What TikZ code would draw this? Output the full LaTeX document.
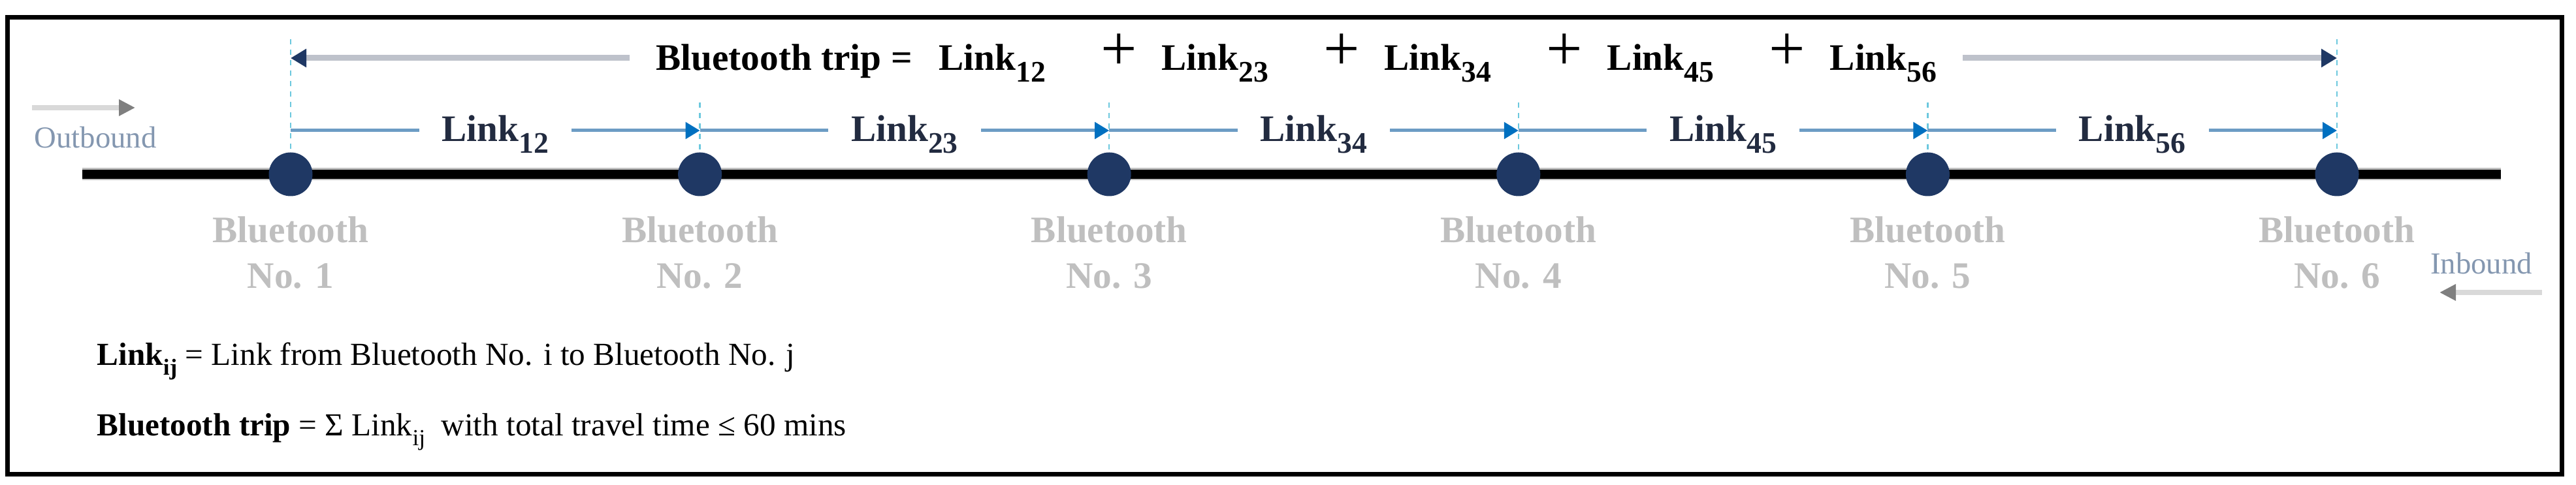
\documentclass[tikz,border=0pt]{standalone}
\usepackage{fontspec}
\setmainfont{Liberation Serif}
\usetikzlibrary{positioning,arrows.meta}
\definecolor{stnavy}{HTML}{1F3864}
\definecolor{tripgray}{HTML}{BEC2CB}
\definecolor{linkblue}{HTML}{6C9CC4}
\definecolor{tipblue}{HTML}{0070C0}
\definecolor{guidecyan}{HTML}{6CC8DE}
\definecolor{lbltext}{HTML}{222B40}
\definecolor{stgray}{HTML}{BFBFBF}
\definecolor{dirtext}{HTML}{8497B0}
\definecolor{dirgray}{HTML}{D9D9D9}
\definecolor{dirtip}{HTML}{7F7F7F}
\newcommand{\lblsize}{\fontsize{16.3}{19.9}\selectfont}
\newcommand{\lnk}[1]{Link\raisebox{-5pt}{\fontsize{13}{13}\selectfont #1}}
\newcommand{\bigplus}{{\fontsize{28}{28}\selectfont\mdseries +}}
\newcommand{\subij}{\raisebox{-4pt}{\fontsize{10}{10}\selectfont ij}}
\tikzset{
  station/.style={circle,fill=stnavy,minimum size=0.67cm,inner sep=0pt},
  stlabel/.style={align=center,inner sep=0pt,text=stgray,font=\lblsize\bfseries},
  road/.style={line width=0.14cm},
  guide/.style={guidecyan,line width=0.7pt,dash pattern=on 0.08cm off 0.08cm},
  linkline/.style={linkblue,line width=0.05cm,-{Triangle[length=0.22cm,width=0.25cm,color=tipblue]}},
  linklabel/.style={fill=white,inner xsep=0.35cm,inner ysep=2pt,anchor=base,yshift=-0.17cm,text=lbltext,font=\lblsize\bfseries},
  tripline/.style={tripgray,line width=0.09cm,{Triangle[length=0.24cm,width=0.27cm,color=stnavy]}-{Triangle[length=0.24cm,width=0.27cm,color=stnavy]}},
  triplabel/.style={fill=white,inner xsep=0.4cm,inner ysep=2pt,anchor=base,yshift=-0.19cm,text=black,font=\lblsize\bfseries},
  dirline/.style={dirgray,line width=0.08cm,-{Triangle[length=0.25cm,width=0.24cm,color=dirtip]}},
  dirlabel/.style={text=dirtext,font=\fontsize{13.3}{16}\selectfont,inner sep=0pt,anchor=base},
  deftext/.style={anchor=base west,inner sep=0pt,font=\fontsize{14}{17}\selectfont},
}

\begin{document}
\begin{tikzpicture}
\useasboundingbox (0,0) rectangle (39.44,7.43);
\draw[line width=0.07cm] (0.115,0.16) rectangle (39.22,7.16);
% road
\coordinate (rd-l) at (1.26,4.76);
\coordinate (rd-r) at (38.29,4.76);
\draw[road,stgray,line width=0.19cm] (rd-l) -- (rd-r);
\draw[road] (rd-l) -- (rd-r);
% stations, guides and links
\foreach \i/\h in {1/6.83,2/5.86,3/5.86,4/5.86,5/5.86,6/6.83}{
  \pgfmathsetmacro{\x}{4.45+6.266*(\i-1)}
  \coordinate (gd\i) at (\x,\h);
  \coordinate (lk\i) at (\x,5.43);
  \draw[guide] (gd\i) -- (\x,5.10);
  \node[station] (st\i) at (\x,4.76) {};
  \node[stlabel,below=0.3cm of st\i] (lb\i) {Bluetooth\\No. \i};
}
\foreach \i/\j in {1/2,2/3,3/4,4/5,5/6}
  \draw[linkline] (lk\i) -- node[linklabel] {\lnk{\i\j}} (lk\j);
% whole trip
\coordinate (tp-l) at (4.45,6.54);
\coordinate (tp-r) at (35.78,6.54);
\draw[tripline] (tp-l) -- node[triplabel,pos=0.4915] {Bluetooth trip =\hspace{0.41cm}\lnk{12}\hspace{0.84cm}\bigplus\hspace{0.38cm}\lnk{23}\hspace{0.84cm}\bigplus\hspace{0.38cm}\lnk{34}\hspace{0.84cm}\bigplus\hspace{0.38cm}\lnk{45}\hspace{0.84cm}\bigplus\hspace{0.38cm}\lnk{56}} (tp-r);
% directions
\coordinate (ob-s) at (0.49,5.78);
\coordinate (ob-e) at (2.07,5.78);
\draw[dirline] (ob-s) -- (ob-e);
\node[dirlabel] (outb) at (1.46,5.16) {Outbound};
\coordinate (ib-s) at (38.92,2.95);
\coordinate (ib-e) at (37.35,2.95);
\draw[dirline] (ib-s) -- (ib-e);
\node[dirlabel] (inb) at (37.99,3.23) {Inbound};
% definitions
\node[deftext] (def1) at (1.48,1.83) {\textbf{Link\subij} = Link from Bluetooth No. i to Bluetooth No. j};
\node[deftext] (def2) at (1.48,0.75) {\textbf{Bluetooth trip} = Σ Link\subij\ \ with total travel time ≤ 60 mins};
\end{tikzpicture}
\end{document}
